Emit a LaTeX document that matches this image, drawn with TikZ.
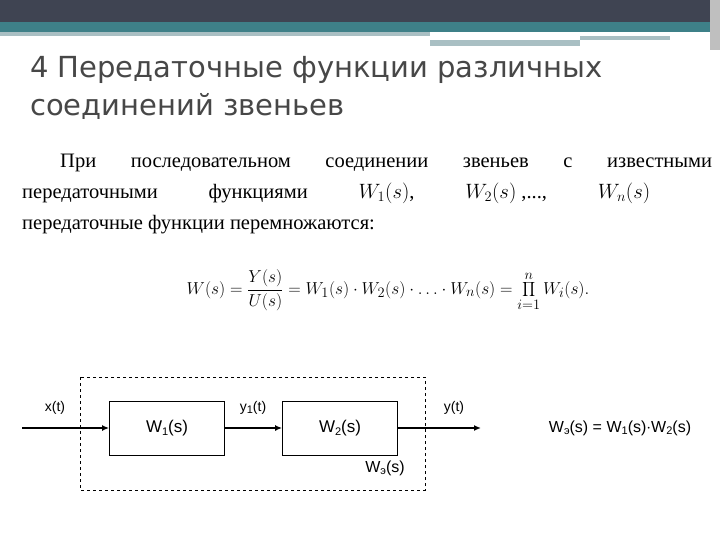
\documentclass[tikz,border=0pt]{standalone}
\usepackage{fontspec}
\setmainfont{Liberation Serif}
\newfontfamily\titlefont{DejaVu Sans}
\newfontfamily\arialf{Liberation Sans}
\usetikzlibrary{arrows.meta}
\definecolor{hdark}{HTML}{3F4452}
\definecolor{hteal}{HTML}{3E8088}
\definecolor{hlight}{HTML}{A9BFC3}
\newcommand{\subsc}[1]{\raisebox{-0.3ex}{\fontsize{11}{11}\selectfont #1}}
\tikzset{blk/.style={draw,line width=0.8pt,minimum width=115pt,minimum height=54pt,inner sep=0pt,font=\arialf\fontsize{17}{17}\selectfont},
sig/.style={line width=1.8pt,-{Latex[length=7pt,width=6pt]}},
lbl/.style={font=\arialf\fontsize{14}{14}\selectfont,inner sep=0pt},
txt/.style={anchor=west,inner sep=0pt,font=\fontsize{20.5}{24}\selectfont}}
\begin{document}
\begin{tikzpicture}[x=1pt,y=-1pt]
\useasboundingbox (0,0) rectangle (720,540);
\fill[white] (0,0) rectangle (720,540);
\fill[hdark] (0,0) rectangle (710,22);
\fill[hteal] (0,22) rectangle (710,32);
\fill[hlight] (0,32) rectangle (430,36);
\fill[hlight] (430,40) rectangle (580,46);
\fill[hlight] (580,36) rectangle (670,40);
\fill[gray!50] (710,0) rectangle (720,50);
\node[anchor=west,text=black!72,font=\titlefont\fontsize{29}{38}\selectfont,align=left,inner sep=0pt] (title) at (30,88) {4 Передаточные функции различных\\соединений звеньев};
\node[txt] (l1) at (60,163) {\makebox[652pt][s]{При последовательном соединении звеньев с известными}};
\node[txt] (l2) at (22,193) {\makebox[628pt]{передаточными\hfill функциями\hfill $W_1(s)$,\hfill $W_2(s)$ ,...,\hfill $W_n(s)$}};
\node[txt] (l3) at (22,225) {передаточные функции перемножаются:};
\node[inner sep=0pt,font=\fontsize{19}{19}\selectfont] (eq) at (388,290) {$\displaystyle W(s)=\frac{Y(s)}{U(s)}=W_1(s)\cdot W_2(s)\cdot\ldots\cdot W_n(s)=\prod_{i=1}^{n}W_i(s).$};
\draw[dashed,line width=0.9pt] (80,377) rectangle (425,490);
\node[blk] (w1) at (167,428) {W\subsc{1}(s)};
\node[blk] (w2) at (340,428) {W\subsc{2}(s)};
\coordinate (in) at (22,428);
\coordinate (out) at (481,428);
\draw[sig] (in) -- (w1);
\draw[sig] (w1) -- (w2);
\draw[sig] (w2) -- (out);
\node[lbl] (xt) at (55,408) {x(t)};
\node[lbl] (y1) at (253,408) {y\subsc{1}(t)};
\node[lbl] (yt) at (454,408) {y(t)};
\node[lbl,font=\arialf\fontsize{16}{16}\selectfont] (we) at (385,468) {W\subsc{э}(s)};
\node[lbl,font=\arialf\fontsize{16}{16}\selectfont] (eq2) at (620,428) {W\subsc{э}(s) = W\subsc{1}(s)$\cdot$W\subsc{2}(s)};
\end{tikzpicture}
\end{document}
